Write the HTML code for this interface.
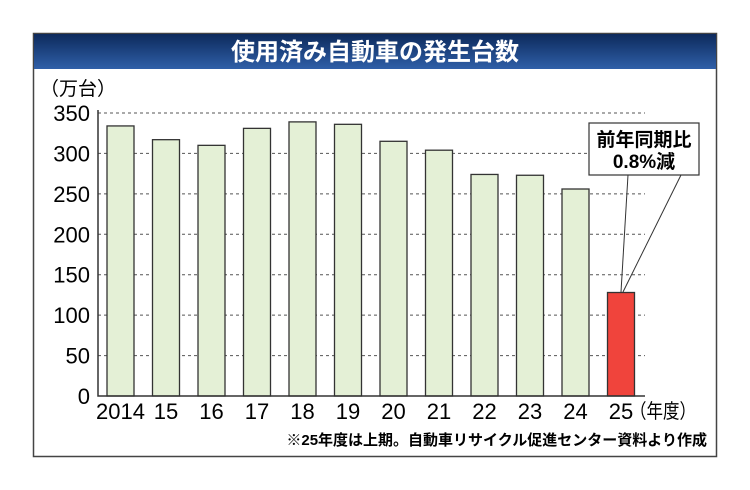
<!DOCTYPE html>
<html><head><meta charset="utf-8"><style>
body{margin:0;background:#fff;}
svg{display:block;font-family:"Liberation Sans","Noto Sans CJK JP",sans-serif;}
</style></head><body>
<svg width="750" height="490" viewBox="0 0 750 490">
<defs><linearGradient id="tg" x1="0" y1="0" x2="0" y2="1"><stop offset="0" stop-color="#0d2a5c"/><stop offset="1" stop-color="#2f5fa8"/></linearGradient></defs>
<rect x="33.5" y="33.5" width="683" height="423" fill="#fff" stroke="#444" stroke-width="1.5"/>
<rect x="34" y="34" width="682" height="35" fill="url(#tg)"/>
<text x="375" y="60" text-anchor="middle" fill="#fff" font-size="24" font-weight="bold">使用済み自動車の発生台数</text>
<text x="40" y="95" font-size="19">（万台）</text>
<g id="grid"></g><g id="bars"></g><g id="ticks"></g>
<g>
<line x1="628" y1="175" x2="621" y2="292" stroke="#333" stroke-width="1"/>
<line x1="681" y1="175" x2="623" y2="292" stroke="#333" stroke-width="1"/>
<rect x="589" y="123" width="110" height="52" fill="#fff" stroke="#333" stroke-width="1.2"/>
<text x="644" y="146" text-anchor="middle" font-size="19" font-weight="bold">前年同期比</text>
<text x="644" y="168" text-anchor="middle" font-size="19" font-weight="bold">0.8%減</text>
</g>
<text x="630" y="418" font-size="20" textLength="66" lengthAdjust="spacingAndGlyphs">（年度）</text>
<text x="707" y="445" text-anchor="end" font-size="15" font-weight="bold">※25年度は上期。自動車リサイクル促進センター資料より作成</text>
</svg>
<script>
const categories=["2014","15","16","17","18","19","20","21","22","23","24","25"];
const values=[334,317,310,331,339,336,315,304,274,273,256,128];
const yTicks=[0,50,100,150,200,250,300,350];
const NS="http://www.w3.org/2000/svg";
const x0=98,x1=645,yBase=396,yTop=113,vMax=350;
function y(v){return yBase-(v/vMax)*(yBase-yTop);}
function xc(i){return 120.5+i*45.5;}
function mk(t,a,p){const e=document.createElementNS(NS,t);for(const k in a)e.setAttribute(k,a[k]);p.appendChild(e);return e;}
const g=document.getElementById('grid'),b=document.getElementById('bars'),tk=document.getElementById('ticks');
yTicks.forEach(v=>{
 if(v>0){const l=mk('line',{x1:x0,x2:x1,y1:y(v),y2:y(v),stroke:'#555','stroke-width':1,'stroke-dasharray':'3,3'},g);
 
 }
 const t=mk('text',{x:90,y:y(v)+8,'text-anchor':'end','font-size':22},tk);t.textContent=v;
 
 
});
categories.forEach((c,i)=>{
 const last=i===categories.length-1;
 const r=mk('rect',{x:xc(i)-13.5,y:y(values[i]),width:27,height:yBase-y(values[i]),fill:last?'#f0443c':'#e4f0d6',stroke:'#333','stroke-width':1.3},b);
 
 
 const t=mk('text',{x:xc(i),y:419,'text-anchor':'middle','font-size':22},tk);t.textContent=c;
 
 
});
const ax=mk('polyline',{points:`${x0},${yTop-3} ${x0},${yBase} ${x1},${yBase}`,fill:'none',stroke:'#333','stroke-width':1.5},tk);


</script>
</body></html>
